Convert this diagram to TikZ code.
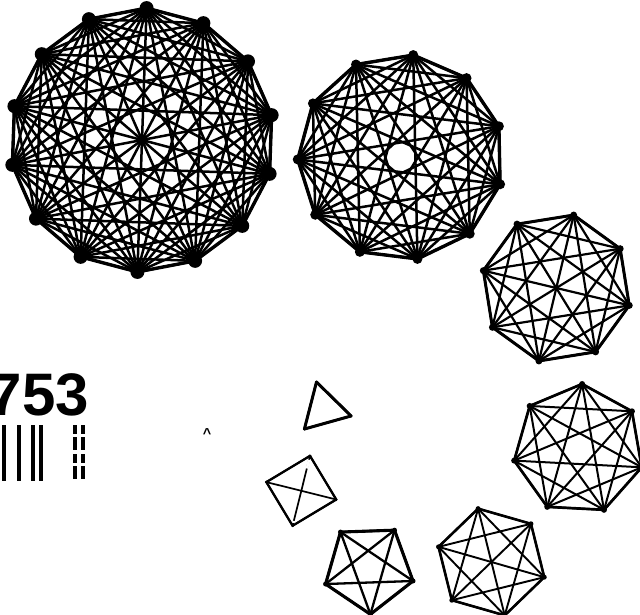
\documentclass[tikz,border=0pt]{standalone}
\usepackage{fontspec}
\setmainfont{Liberation Sans}
\tikzset{
  corner/.style={circle, fill=black, inner sep=0pt},
  chord/.style={black, line cap=round, line join=round},
  gapline/.style={white, line width=2.6pt, shorten <=4pt, shorten >=3pt, dash pattern=on 9pt off 54pt on 6pt off 20pt},
  bar/.style={black, line width=4pt},
  brokenbar/.style={black, line width=4pt, dash pattern=on 9pt off 3pt on 13pt off 4pt}
}

\begin{document}
\begin{tikzpicture}[x=1pt, y=-1pt]
  \useasboundingbox (0,0) rectangle (640,614);

  % Complete graphs: name/corners/centre/radius/phase/line width/blot size
  \foreach \nm/\cnt/\cx/\cy/\rad/\ph/\lw/\blot in {
    fourteen/14/142/140/132/88/2.5/14,
    eleven/11/400.7/157.3/103/83/2.5/10,
    eight/8/556.3/288/75/76.6/2.2/7,
    seven/7/578.7/449.4/65.5/87/2.0/6,
    six/6/491.4/562/55/104/1.9/5,
    five/5/368.8/568.3/46/56/2.3/5,
    four/4/301.3/490.8/36/76/1.7/3,
    three/3/324/409/28/105.6/2.2/3} {
    % Corners
    \foreach \i in {1,...,\cnt} {
      \pgfmathsetmacro{\ang}{\ph-360*(\i-1)/\cnt}
      \node[corner, minimum size=\blot pt] (\nm-\i) at ({\cx+\rad*cos(\ang)},{\cy-\rad*sin(\ang)}) {};
    }
    % Every pair of corners
    \foreach \i in {1,...,\cnt} {
      \pgfmathtruncatemacro{\nxt}{\i+1}
      \ifnum\i<\cnt
        \foreach \j in {\nxt,...,\cnt} {
          \draw[chord, line width=\lw pt] (\nm-\i.center) -- (\nm-\j.center);
        }
      \fi
    }
    % Heavier outline
    \foreach \i in {1,...,\cnt} {
      \pgfmathtruncatemacro{\nxt}{mod(\i,\cnt)+1}
      \draw[chord, line width=1.35*\lw pt] (\nm-\i.center) -- (\nm-\nxt.center);
    }
  }

  % Broken diagonal of the square
  \draw[gapline] (four-1.center) -- (four-3.center);

  % Number and cut-off print below it
  \node[anchor=base east, inner sep=0pt, font=\fontsize{60}{60}\selectfont\bfseries] (number) at (89,415) {753};
  \foreach \x in {3.5,18.5,33,41} {
    \draw[bar] (\x,425) -- (\x,481);
  }
  \foreach \x in {75,83} {
    \draw[brokenbar] (\x,425) -- (\x,481);
  }

  % Speck
  \node[inner sep=0pt, font=\Large\bfseries] (speck) at (207,434) {\^{}};
\end{tikzpicture}
\end{document}
